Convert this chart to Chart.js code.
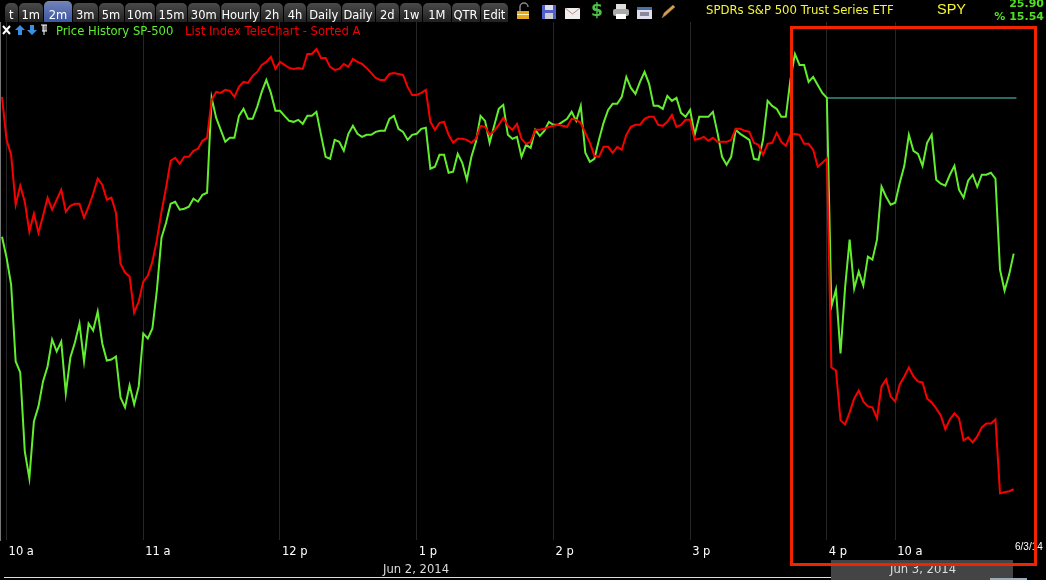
<!DOCTYPE html>
<html>
<head>
<meta charset="utf-8">
<title>SPY</title>
<script src="https://cdn.jsdelivr.net/npm/chart.js@4/dist/chart.umd.min.js"></script>
<style>
    html, body { margin: 0; padding: 0; background: #000; overflow: hidden; }
    body { width: 1046px; height: 580px; position: relative; font-family: "DejaVu Sans", sans-serif; font-size: 11.6px; }
    canvas { position: absolute; left: 0; top: 0; }
    .abs { position: absolute; white-space: nowrap; }
    #tabs { position: absolute; left: 5px; top: 3px; height: 19px; display: flex; }
    .tab { height: 19px; line-height: 25px; margin-right: 1px; text-align: center; color: #fff; font-size: 11.5px;
           background: linear-gradient(#4a4a4a, #202020); border-radius: 5px 5px 0 0; box-sizing: border-box; }
    .tab.on { background: linear-gradient(#6f82b8, #3c56a0); height: 21px; margin-top: -2px; line-height: 27px; border-top: 1px solid #888; }
    #box { position: absolute; left: 790px; top: 26px; width: 241px; height: 534px; border: 3px solid #f02400; }
    #band { position: absolute; left: 831px; top: 560px; width: 182px; height: 20px; background: #444; }
    #rule { position: absolute; left: 4px; top: 577px; width: 827px; height: 1px; background: #ddd; }
    #rule2 { position: absolute; left: 990px; top: 578px; width: 37px; height: 2px; background: #9ab; }
    #edge { position: absolute; left: 0; top: 22px; width: 1px; height: 519px; background: #777; }
</style>
</head>
<body>
<div id="band"></div>
<div id="rule"></div>
<div id="rule2"></div>
<canvas id="chart" width="1046" height="580"></canvas>
<div id="edge"></div>
<div id="tabs"></div>

<svg class="abs" style="left:515px;top:2px" width="165" height="19" viewBox="0 0 165 19">
    <!-- lock -->
    <path d="M5 9V5a4 4 0 0 1 8 0" fill="none" stroke="#888" stroke-width="1.5"/>
    <rect x="2" y="9" width="12" height="8" fill="#e8a820"/><rect x="2" y="12" width="12" height="1" fill="#fff3b0"/>
    <!-- save -->
    <rect x="27" y="3" width="14" height="14" fill="#5060c8"/><rect x="30" y="3" width="8" height="5" fill="#dde"/><rect x="30" y="11" width="8" height="6" fill="#ccc"/>
    <!-- mail -->
    <rect x="50" y="6" width="15" height="11" fill="#eee"/><path d="M50 6l7.5 6 7.5-6" fill="none" stroke="#b88" stroke-width="1"/>
    <!-- print -->
    <rect x="101" y="2" width="10" height="6" fill="#ddd"/><rect x="98" y="7" width="16" height="7" rx="2" fill="#aaa"/><rect x="101" y="12" width="10" height="5" fill="#fff"/>
    <!-- calendar -->
    <rect x="122" y="5" width="15" height="12" fill="#dde"/><rect x="122" y="5" width="15" height="3" fill="#4a6fa8"/><rect x="125" y="10" width="9" height="4" fill="#889"/>
    <!-- pencil -->
    <path d="M147 16l2-5 9-8 2 2-9 8z" fill="#d8a040" stroke="#877" stroke-width=".5"/>
</svg>
<div class="abs" style="left:591px;top:0;color:#4fc04a;font:bold 17px 'DejaVu Sans'">$</div>

<div class="abs" style="left:706px;top:3px;color:#f5f532;font-size:11.7px">SPDRs S&amp;P 500 Trust Series ETF</div>
<div class="abs" style="left:937px;top:1px;color:#f5f532;font:14.5px 'Liberation Sans'">SPY</div>
<div class="abs" style="right:2px;top:-3px;color:#4fe020;font:bold 11px 'DejaVu Sans'">25.90</div>
<div class="abs" style="right:2px;top:10px;color:#4fe020;font:bold 11px 'DejaVu Sans'">% 15.54</div>

<svg class="abs" style="left:1px;top:24px" width="50" height="12" viewBox="0 0 50 12">
    <path d="M2 2l7 8M9 2l-7 8" stroke="#fff" stroke-width="2"/>
    <path d="M19 1l5 5h-3v5h-4V6h-3z" fill="#3c8fe0"/>
    <path d="M31 11l5-5h-3V1h-4v5h-3z" fill="#3c8fe0"/>
    <path d="M40 1h6M41 7h5M43 1v10M42 1v6M45 1v6" stroke="#fff" stroke-width="1" fill="none"/>
</svg>
<div class="abs" style="left:56px;top:24px;color:#5fee30">Price History SP-500</div>
<div class="abs" style="left:185px;top:24px;color:#f00000">List Index TeleChart - Sorted A</div>

<div class="abs" style="left:383px;top:562px;color:#ddd">Jun 2, 2014</div>
<div class="abs" style="left:890px;top:562px;color:#ddd">Jun 3, 2014</div>
<div class="abs" style="left:1015px;top:541px;width:31px;overflow:hidden;color:#fff;font:10px 'Liberation Sans Narrow','Liberation Sans'">6/3/14 10</div>
<div id="box"></div>

<script>
// Toolbar tabs
const tabLabels = ['t', '1m', '2m', '3m', '5m', '10m', '15m', '30m', 'Hourly', '2h', '4h', 'Daily', 'Daily', '2d', '1w', '1M', 'QTR', 'Edit'];
const tabWidths = [12.5, 24.5, 28, 24.5, 25, 30.5, 31, 31.5, 39.5, 22, 22, 33.5, 33, 23.5, 22, 27.5, 28, 27.5];

// Time axis, one sample every 2 minutes
const tickIndex = [1, 31, 61, 91, 121, 151, 181, 196];
const tickLabels = ['10 a', '11 a', '12 p', '1 p', '2 p', '3 p', '4 p', '10 a'];

// Price History SP-500 (green)
const priceHistory = [
    323, 302, 275, 198, 187, 108, 81, 138, 153, 178, 193, 220, 208, 218, 166, 202, 217, 236, 198, 236,
    229, 248, 216, 199, 200, 203, 162, 152, 174, 155, 173, 226, 221, 231, 270, 322, 337, 356, 358, 350,
    351, 353, 361, 358, 365, 367, 462, 442, 430, 418, 422, 422, 444, 451, 441, 441, 453, 468, 480, 467,
    449, 449, 444, 439, 438, 440, 436, 444, 444, 448, 425, 403, 401, 420, 418, 409, 426, 434, 426, 423,
    425, 425, 428, 429, 429, 441, 444, 431, 428, 420, 425, 426, 431, 432, 391, 393, 405, 405, 387, 388,
    406, 397, 380, 403, 418, 444, 439, 417, 434, 451, 455, 425, 421, 423, 403, 415, 412, 430, 424, 429,
    438, 435, 435, 438, 441, 448, 439, 454, 407, 398, 401, 420, 437, 450, 456, 456, 463, 483, 472, 466,
    478, 488, 476, 454, 454, 451, 464, 459, 462, 447, 443, 450, 425, 443, 443, 443, 448, 427, 403, 395,
    403, 430, 426, 423, 420, 401, 400, 420, 459, 454, 451, 443, 443, 480, 506, 495, 495, 478, 483, 475,
    467, 462, 253, 270, 206, 272, 320, 271, 288, 274, 303, 300, 320, 373, 363, 355, 357, 377, 394, 425,
    409, 406, 394, 417, 425, 380, 376, 374, 385, 394, 370, 362, 379, 385, 373, 385, 385, 387, 381, 290,
    269, 285, 306
];

// List Index TeleChart - Sorted A (red)
const listIndex = [
    463, 420, 405, 355, 374, 358, 328, 346, 327, 344, 362, 350, 360, 370, 348, 354, 356, 356, 342, 353,
    366, 381, 375, 360, 362, 347, 296, 287, 283, 247, 258, 278, 284, 298, 320, 348, 372, 399, 402, 396,
    403, 403, 409, 411, 419, 422, 460, 468, 467, 470, 469, 463, 473, 478, 477, 484, 488, 495, 498, 503,
    491, 498, 495, 492, 491, 492, 491, 506, 506, 511, 502, 502, 493, 490, 491, 496, 493, 501, 498, 496,
    492, 487, 482, 480, 480, 486, 487, 486, 485, 473, 465, 465, 467, 470, 438, 430, 437, 438, 425, 417,
    421, 421, 420, 417, 421, 434, 433, 425, 429, 435, 442, 434, 430, 436, 421, 416, 418, 430, 430, 431,
    433, 434, 435, 434, 433, 441, 440, 437, 427, 417, 404, 403, 413, 413, 407, 413, 410, 425, 433, 435,
    435, 441, 443, 443, 435, 434, 438, 445, 433, 435, 440, 440, 420, 421, 423, 419, 422, 418, 418, 418,
    420, 431, 431, 429, 428, 417, 415, 405, 416, 417, 427, 418, 414, 425, 426, 425, 416, 416, 410, 393,
    397, 401, 192, 189, 139, 135, 147, 161, 169, 158, 153, 152, 141, 173, 180, 163, 158, 175, 183, 192,
    183, 178, 177, 161, 157, 151, 144, 130, 140, 146, 141, 119, 122, 117, 123, 132, 136, 136, 140, 66,
    67, 68, 70
];

// Flat teal line after the close
const closeIndex = [181, 222.6];
const closeLevel = [462, 462];

// Build the tabs
const tabs = document.getElementById('tabs');
tabLabels.forEach((label, i) => {
    const tab = document.createElement('div');
    tab.className = 'tab' + (label === '2m' ? ' on' : '');
    tab.style.width = tabWidths[i] + 'px';
    tab.textContent = label;
    tabs.appendChild(tab);
});

const toPoints = values => values.map((v, i) => ({ x: i, y: v }));

new Chart(document.getElementById('chart').getContext('2d'), {
    type: 'line',
    data: {
        datasets: [
            { label: 'List Index TeleChart - Sorted A', data: toPoints(listIndex), borderColor: '#f80000', borderWidth: 2 },
            { label: 'Price History SP-500', data: toPoints(priceHistory), borderColor: '#62ee2e', borderWidth: 2 },
            { label: 'Close', data: closeIndex.map((x, i) => ({ x: x, y: closeLevel[i] })), borderColor: '#2c6a64', borderWidth: 2 }
        ]
    },
    options: {
        responsive: false,
        animation: false,
        devicePixelRatio: 1,
        layout: { padding: { top: 22, left: 0, right: 0, bottom: 16 } },
        elements: { point: { radius: 0 }, line: { tension: 0 } },
        plugins: { legend: { display: false }, tooltip: { enabled: false } },
        scales: {
            x: {
                type: 'linear',
                min: -0.44,
                max: 229.09,
                afterBuildTicks: axis => { axis.ticks = tickIndex.map(v => ({ value: v })); },
                grid: { color: '#262626', lineWidth: 1, drawTicks: false },
                border: { display: false },
                ticks: {
                    color: '#fff',
                    font: { family: 'DejaVu Sans', size: 11.5 },
                    align: 'start',
                    labelOffset: 2,
                    padding: 5,
                    maxRotation: 0,
                    autoSkip: false,
                    callback: value => tickLabels[tickIndex.indexOf(value)]
                }
            },
            y: { display: false, min: 19, max: 538 }
        }
    }
});
</script>
</body>
</html>
